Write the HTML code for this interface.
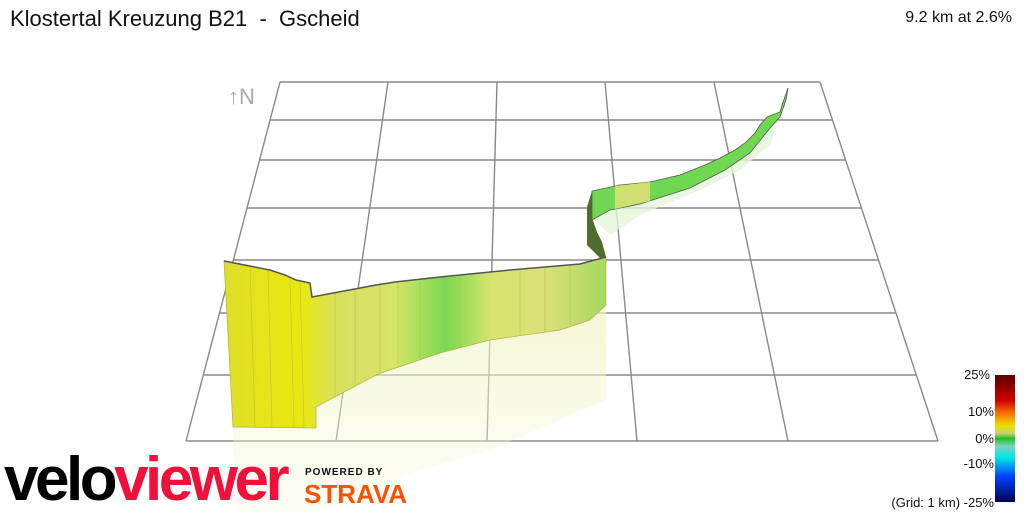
<!DOCTYPE html>
<html><head><meta charset="utf-8"><style>
body{margin:0;width:1024px;height:512px;background:#fff;overflow:hidden;font-family:"Liberation Sans",sans-serif;position:relative}
.t{position:absolute;color:#111}
</style></head><body>
<svg width="1024" height="512" style="position:absolute;left:0;top:0">
<defs>
<linearGradient id="w" x1="0" x2="1" y1="0" y2="0">
<stop offset="0" stop-color="#dede2a"/><stop offset="0.1" stop-color="#e4e41a"/><stop offset="0.2" stop-color="#e8e810"/><stop offset="0.3" stop-color="#d8e060"/><stop offset="0.45" stop-color="#d6e46a"/><stop offset="0.58" stop-color="#7ad850"/><stop offset="0.7" stop-color="#d8e470"/><stop offset="0.85" stop-color="#d8e078"/><stop offset="1" stop-color="#a6d860"/>
</linearGradient>
<linearGradient id="r" x1="0" x2="0" y1="0" y2="1"><stop offset="0" stop-color="#f0f4c0" stop-opacity="0.7"/><stop offset="1" stop-color="#f6f8dc" stop-opacity="0.25"/></linearGradient>
<linearGradient id="cb" x1="0" x2="0" y1="0" y2="1">
<stop offset="0" stop-color="#5a0000"/><stop offset="0.2" stop-color="#d00000"/><stop offset="0.3" stop-color="#ff7000"/><stop offset="0.4" stop-color="#e8e000"/><stop offset="0.46" stop-color="#c8d070"/><stop offset="0.5" stop-color="#20c020"/><stop offset="0.56" stop-color="#80d0c0"/><stop offset="0.65" stop-color="#00e8e8"/><stop offset="0.8" stop-color="#0040ff"/><stop offset="1" stop-color="#000050"/>
</linearGradient>
</defs>
<g stroke="#888" stroke-width="1.4" fill="none">
<line x1="280" y1="82" x2="820" y2="82"/>
<line x1="270" y1="120" x2="832" y2="120"/>
<line x1="260" y1="160" x2="845" y2="160"/>
<line x1="247" y1="208" x2="861" y2="208"/>
<line x1="234" y1="260" x2="878" y2="260"/>
<line x1="220" y1="313" x2="895" y2="313"/>
<line x1="204" y1="375" x2="916" y2="375"/>
<line x1="186" y1="441" x2="938" y2="441"/>
<line x1="280" y1="82" x2="186" y2="441"/>
<line x1="388" y1="82" x2="336" y2="441"/>
<line x1="497" y1="82" x2="487" y2="441"/>
<line x1="605" y1="82" x2="637" y2="441"/>
<line x1="714" y1="82" x2="788" y2="441"/>
<line x1="820" y1="82" x2="938" y2="441"/>
</g>
<path d="M233,427 L316,428 L316,407 L378,374 L440,353 L490,340 L560,330 L590,320 L606,305 L606,400 L560,420 L490,450 L420,470 L320,512 L236,512 Z" fill="url(#r)"/>
<path d="M592,218 L640,200 L690,185 L725,165 L750,150 L770,125 L780,115 L770,145 L740,170 L700,190 L640,215 L610,235 Z" fill="#e4f4d8" opacity="0.8"/>
<path d="M224,261 L270,270 L285,275 L296,280 L310,283 L312,297 L376,285 L395,282 L440,277 L490,272 L510,270 L580,264 L606,257 L606,305 L590,320 L560,330 L490,340 L440,353 L378,374 L316,407 L316,428 L233,427 Z" fill="url(#w)" stroke="#b0b040" stroke-width="0.7"/>
<g stroke="#b8b840" stroke-width="0.8" opacity="0.6">
<line x1="250" y1="266" x2="255" y2="427"/><line x1="268" y1="270" x2="272" y2="427"/><line x1="290" y1="278" x2="294" y2="427"/><line x1="300" y1="281" x2="304" y2="427"/>
<line x1="335" y1="292" x2="335" y2="398"/><line x1="355" y1="289" x2="355" y2="386"/><line x1="380" y1="285" x2="380" y2="372"/><line x1="398" y1="282" x2="398" y2="365"/><line x1="420" y1="279" x2="420" y2="360"/><line x1="460" y1="275" x2="460" y2="348"/><line x1="520" y1="269" x2="520" y2="335"/><line x1="545" y1="267" x2="545" y2="332"/><line x1="570" y1="265" x2="570" y2="325"/>
</g>
<path d="M224,261 L270,270 L285,275 L296,280 L310,283 L312,297 L376,285 L395,282 L440,277 L490,272 L510,270 L580,264 L606,257" fill="none" stroke="#555" stroke-width="1.5"/>
<path d="M592,191 L587,207 L587,245 L600,258 L606,257 L602,242 L597,232 L592,218 Z" fill="#4e6e2e"/>
<path d="M592,191 L620,185 L650,182 L680,175 L705,165 L720,158 L735,150 L745,143 L755,133 L760,125 L767,117 L780,112 L782,105 L788,88 L786,100 L780,117 L770,128 L758,143 L750,153 L725,170 L690,188 L640,204 L610,210 L592,220 Z" fill="#70d850" stroke="#555" stroke-width="0.8"/>
<path d="M615,186 L650,182 L650,201 L615,209 Z" fill="#d0e070"/>
<rect x="995" y="375" width="20" height="127" fill="url(#cb)"/>
</svg>
<div class="t" style="left:10px;top:6px;font-size:22px">Klostertal Kreuzung B21&nbsp; - &nbsp;Gscheid</div>
<div class="t" style="right:12px;top:9px;font-size:16px">9.2 km at 2.6%</div>
<div class="t" style="left:228px;top:84px;font-size:22px;color:#aaa">↑N</div>
<div class="t" style="right:34px;top:367px;font-size:13px">25%</div>
<div class="t" style="right:30px;top:404px;font-size:13px">10%</div>
<div class="t" style="right:30px;top:431px;font-size:13px">0%</div>
<div class="t" style="right:30px;top:456px;font-size:13px">-10%</div>
<div class="t" style="right:30px;top:495px;font-size:13px">(Grid: 1 km) -25%</div>
<div class="t" style="left:4px;top:444px;font-size:62px;font-weight:bold;letter-spacing:-3.5px;color:#000">velo<span style="color:#f0103a">viewer</span></div>
<div class="t" style="left:305px;top:467px;font-size:10px;font-weight:bold;letter-spacing:1px">POWERED BY</div>
<div class="t" style="left:304px;top:479px;font-size:26px;font-weight:bold;color:#fc5200">STRAVA</div>
</body></html>
